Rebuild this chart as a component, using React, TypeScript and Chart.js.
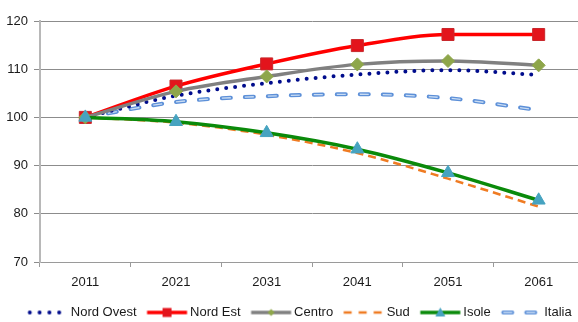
import React, { useEffect, useRef } from "react";
import { Chart, registerables } from "chart.js";

Chart.register(...registerables);

const years = ["2011", "2021", "2031", "2041", "2051", "2061"];
const nordOvest = [100, 104.5, 107.1, 108.9, 109.8, 108.8];
const nordEst = [100, 106.5, 111.1, 114.9, 117.2, 117.2];
const centro = [100, 105.4, 108.5, 111.0, 111.7, 110.8];
const sud = [100, 98.9, 96.4, 92.6, 87.3, 81.5];
const isole = [100, 99.1, 96.8, 93.4, 88.5, 82.8];
const italia = [100, 103.2, 104.4, 104.8, 104.0, 101.5];
const yMin = 70;
const yMax = 120;
const yStep = 10;

type Spec = {
  label: string;
  data: number[];
  color: string;
  inner: string;
  width: number;
  dash: number[];
  cap: CanvasLineCap;
  marker: "" | "rect" | "rectRot" | "triangle";
  markerColor: string;
  markerBorder: string;
  markerRadius: number;
  order: number;
  legendDash: number[];
  legendWidth: number;
  legendMarker: number;
};

const series: Spec[] = [
  { label: "Nord Ovest", data: nordOvest, color: "#000c8c", inner: "", width: 4, dash: [0, 9], cap: "round", marker: "", markerColor: "", markerBorder: "", markerRadius: 0, order: 3, legendDash: [0, 9.8], legendWidth: 4, legendMarker: 0 },
  { label: "Nord Est", data: nordEst, color: "#ff0000", inner: "", width: 3.5, dash: [], cap: "butt", marker: "rect", markerColor: "#e3141c", markerBorder: "#c8282c", markerRadius: 8.5, order: 2, legendDash: [], legendWidth: 3.5, legendMarker: 9 },
  { label: "Centro", data: centro, color: "#808080", inner: "", width: 3.5, dash: [], cap: "butt", marker: "rectRot", markerColor: "#8ea64a", markerBorder: "#8ea64a", markerRadius: 6.5, order: 1, legendDash: [], legendWidth: 3.5, legendMarker: 7 },
  { label: "Sud", data: sud, color: "#ef7b22", inner: "", width: 2.5, dash: [8, 5], cap: "butt", marker: "", markerColor: "", markerBorder: "", markerRadius: 0, order: 4, legendDash: [8, 7], legendWidth: 2.5, legendMarker: 0 },
  { label: "Isole", data: isole, color: "#0a8a0a", inner: "", width: 3.5, dash: [], cap: "butt", marker: "triangle", markerColor: "#46a3c0", markerBorder: "#46a3c0", markerRadius: 7.5, order: 0, legendDash: [], legendWidth: 3.5, legendMarker: 10 },
  { label: "Italia", data: italia, color: "#5d90d8", inner: "#c9dcf3", width: 4, dash: [9, 14], cap: "round", marker: "", markerColor: "", markerBorder: "", markerRadius: 0, order: 5, legendDash: [9, 14], legendWidth: 4, legendMarker: 0 },
];

function drawMarker(ctx: CanvasRenderingContext2D, style: string, x: number, y: number, s: number, color: string) {
  ctx.save();
  ctx.fillStyle = color;
  ctx.setLineDash([]);
  ctx.beginPath();
  if (style === "rect") {
    ctx.rect(x - s / 2, y - s / 2, s, s);
  } else if (style === "rectRot") {
    ctx.moveTo(x - s / 2, y);
    ctx.lineTo(x, y - s / 2);
    ctx.lineTo(x + s / 2, y);
    ctx.lineTo(x, y + s / 2);
    ctx.closePath();
  } else if (style === "triangle") {
    ctx.moveTo(x, y - s / 2);
    ctx.lineTo(x + s / 2, y + s / 2 - 1);
    ctx.lineTo(x - s / 2, y + s / 2 - 1);
    ctx.closePath();
  }
  ctx.fill();
  ctx.restore();
}

function legendImage(sp: Spec): HTMLCanvasElement {
  const c = document.createElement("canvas");
  c.width = 80;
  c.height = 16;
  const ctx = c.getContext("2d")!;
  const x0 = 21.5;
  const x1 = 61.5;
  const y = 8;
  const start = sp.cap === "round" ? x0 + 2 : x0;
  ctx.strokeStyle = sp.color;
  ctx.lineWidth = sp.legendWidth;
  ctx.lineCap = sp.cap;
  ctx.setLineDash(sp.legendDash);
  ctx.beginPath();
  ctx.moveTo(start, y);
  ctx.lineTo(x1, y);
  ctx.stroke();
  if (sp.inner) {
    ctx.strokeStyle = sp.inner;
    ctx.lineWidth = 1.3;
    ctx.lineCap = "butt";
    ctx.beginPath();
    ctx.moveTo(start, y);
    ctx.lineTo(x1, y);
    ctx.stroke();
  }
  if (sp.marker) {
    drawMarker(ctx, sp.marker, (x0 + x1) / 2, y, sp.legendMarker, sp.markerColor);
  }
  return c;
}

const innerLinePlugin = {
  id: "innerLine",
  afterDatasetDraw(chart: any, args: any) {
    const sp = series[args.index];
    if (!sp || !sp.inner) return;
    const line = args.meta.dataset;
    if (!line || typeof line.path !== "function") return;
    const ctx = chart.ctx as CanvasRenderingContext2D;
    ctx.save();
    ctx.strokeStyle = sp.inner;
    ctx.lineWidth = 1.3;
    ctx.lineCap = "butt";
    ctx.setLineDash(sp.dash);
    ctx.lineDashOffset = 0;
    ctx.beginPath();
    line.path(ctx);
    ctx.stroke();
    ctx.restore();
  },
};

export default function App() {
  const ref = useRef<HTMLCanvasElement>(null);

  useEffect(() => {
    const canvas = ref.current;
    if (!canvas) return;
    Chart.defaults.font.family = "'Liberation Sans', Arial, sans-serif";
    Chart.defaults.font.size = 13;
    Chart.defaults.color = "#1a1a1a";

    const images = series.map((s) => legendImage(s));

    const chart = new Chart(canvas, {
      type: "line",
      data: {
        labels: years,
        datasets: series.map((s) => ({
          label: s.label,
          data: s.data,
          borderColor: s.color,
          backgroundColor: s.color,
          borderWidth: s.width,
          borderDash: s.dash,
          borderCapStyle: s.cap,
          cubicInterpolationMode: "monotone" as const,
          fill: false,
          order: s.order,
          yAxisID: "y",
          pointStyle: s.marker || "circle",
          pointRadius: s.marker ? s.markerRadius : 0,
          pointHoverRadius: s.marker ? s.markerRadius : 0,
          pointBackgroundColor: s.markerColor || s.color,
          pointBorderColor: s.markerBorder || s.color,
          pointBorderWidth: 1,
        })),
      },
      plugins: [innerLinePlugin],
      options: {
        responsive: false,
        animation: false,
        layout: { padding: { top: 21, right: 0, left: 0, bottom: 0 } },
        plugins: {
          tooltip: { enabled: false },
          legend: {
            position: "bottom",
            maxHeight: 27,
            labels: {
              usePointStyle: true,
              pointStyleWidth: 36,
              boxHeight: 13,
              padding: 11,
              color: "#1a1a1a",
              font: { size: 13 },
              generateLabels: () =>
                series.map((s, i) => ({
                  text: s.label,
                  pointStyle: images[i] as any,
                  datasetIndex: i,
                  hidden: false,
                  lineWidth: 0,
                  fillStyle: "transparent",
                  strokeStyle: "transparent",
                  fontColor: "#1a1a1a",
                })),
            },
          },
        },
        scales: {
          x: {
            type: "category",
            offset: true,
            grid: {
              offset: true,
              drawOnChartArea: false,
              drawTicks: true,
              tickLength: 5,
              color: "#9a9a9a",
            },
            border: { color: "#9a9a9a", width: 1 },
            ticks: { padding: 8, color: "#1a1a1a", font: { size: 13 } },
            afterFit: (s: any) => {
              s.height = 33;
            },
          },
          y: {
            position: "left",
            min: yMin,
            max: yMax,
            grid: {
              color: "#8c8c8c",
              lineWidth: 1,
              drawTicks: true,
              tickLength: 6,
            },
            border: { color: "#b8b8b8", width: 2 },
            ticks: { stepSize: yStep, padding: 6, color: "#1a1a1a", font: { size: 13 } },
            afterFit: (s: any) => {
              s.width = 40;
            },
          },
          spacer: {
            type: "linear",
            position: "right",
            display: true,
            grid: { display: false, drawTicks: false },
            border: { display: false },
            ticks: { display: false },
            afterFit: (s: any) => {
              s.width = 16;
            },
          },
        },
      },
    });
    return () => chart.destroy();
  }, []);

  return (
    <div
      style={{
        position: "fixed",
        left: 0,
        top: 0,
        width: 578,
        height: 322,
        overflow: "hidden",
        background: "#fff",
      }}
    >
      <div style={{ width: 600, height: 322 }}>
        <canvas ref={ref} width={600} height={322} style={{ display: "block", width: 600, height: 322 }} />
      </div>
    </div>
  );
}
